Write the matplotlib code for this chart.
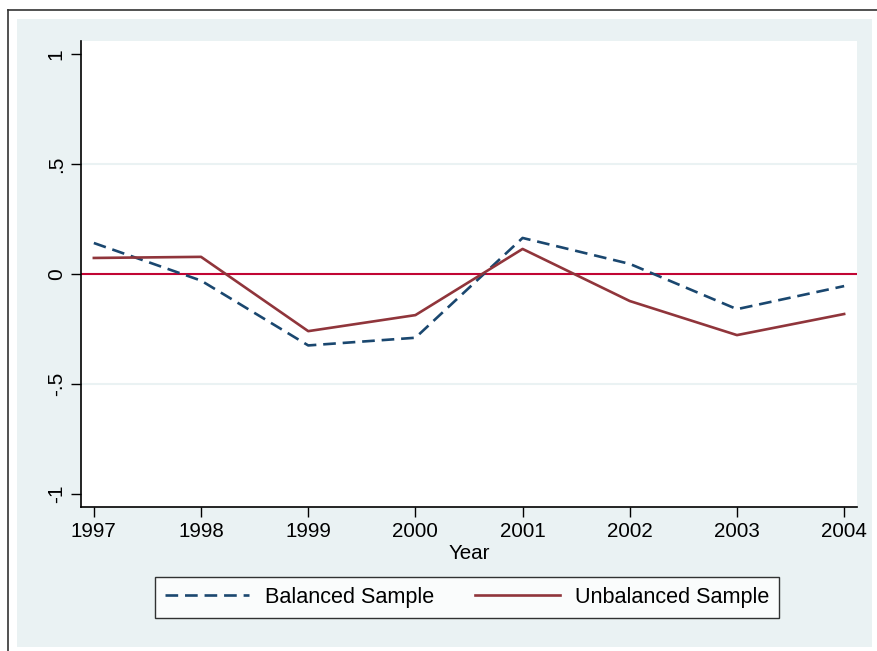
import matplotlib
matplotlib.use("Agg")
import matplotlib.pyplot as plt
from matplotlib.patches import Rectangle
from matplotlib.lines import Line2D

years = [1997, 1998, 1999, 2000, 2001, 2002, 2003, 2004]
balanced = [0.141, -0.03, -0.325, -0.29, 0.164, 0.046, -0.16, -0.055]
unbalanced = [0.073, 0.078, -0.26, -0.187, 0.114, -0.123, -0.278, -0.182]
yticks = [-1, -0.5, 0, 0.5, 1]
ytick_labels = ["-1", "-.5", "0", ".5", "1"]

plt.rcParams['font.family'] = ['Liberation Sans', 'DejaVu Sans']

W, H = 878, 651
fig = plt.figure(figsize=(W / 100, H / 100), dpi=100)
fig.patch.set_facecolor("white")

# outer frame line
fig.add_artist(Line2D([8 / W, 8 / W], [0, 1 - 10 / H], transform=fig.transFigure, color="#333333", lw=1.2))
fig.add_artist(Line2D([8 / W, 1], [1 - 10 / H, 1 - 10 / H], transform=fig.transFigure, color="#333333", lw=1.2))
# light background
fig.add_artist(Rectangle((17 / W, 1 - 647 / H), (872 - 17) / W, (647 - 19) / H,
                         transform=fig.transFigure, facecolor="#EAF2F3", edgecolor="none", zorder=0))

ax = fig.add_axes([81 / W, 1 - 507 / H, (857 - 81) / W, (507 - 41) / H])
ax.set_facecolor("white")

ax.set_xlim(1996.88, 2004.12)
ax.set_ylim(-1.06, 1.06)

for g in [-0.5, 0.5]:
    ax.axhline(g, color="#EAF2F3", lw=1.5, zorder=1)

ax.axhline(0, color="#C10534", lw=1.5, zorder=2)

l1, = ax.plot(years, balanced, color="#1A476F", lw=1.9, label="Balanced Sample", zorder=3)
l1.set_dashes((4.8, 2.6))
l2, = ax.plot(years, unbalanced, color="#90353B", lw=1.9, label="Unbalanced Sample", zorder=3)

ax.set_xticks(years)
ax.set_xticklabels([str(y) for y in years], fontsize=14.8)
ax.set_yticks(yticks)
ax.set_yticklabels(ytick_labels, fontsize=15, rotation=90, va="center")
ax.tick_params(axis="both", direction="out", length=7, width=1, color="black", pad=4)

for s in ["top", "right"]:
    ax.spines[s].set_visible(False)
for s in ["left", "bottom"]:
    ax.spines[s].set_color("black")
    ax.spines[s].set_linewidth(1.2)

ax.set_xlabel("Year", fontsize=14.8, labelpad=2)

leg = fig.legend(handles=[l1, l2], loc="center", bbox_to_anchor=(467 / W, 1 - 597.5 / H),
                 ncol=2, fontsize=15.6, frameon=True, fancybox=False, edgecolor="black",
                 handlelength=3.9, handletextpad=0.7, columnspacing=1.9, borderpad=0.45,
                 borderaxespad=0)
leg.get_frame().set_linewidth(1.0)
leg.get_frame().set_facecolor("white")

fig.savefig("out.png", dpi=100, facecolor="white")
